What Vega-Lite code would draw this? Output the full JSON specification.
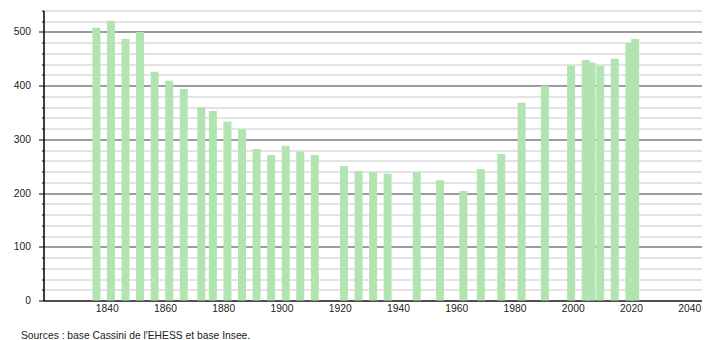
{
  "$schema": "https://vega.github.io/schema/vega-lite/v6.json",
  "width": 658,
  "height": 290,
  "autosize": {"type": "none"},
  "padding": {"left": 43.5, "top": 10.5, "right": 8.5, "bottom": 39.5},
  "background": "white",
  "config": {
    "view": {"stroke": null},
    "font": "Liberation Sans",
    "axis": {"labelFont": "Liberation Sans", "labelFontSize": 10.3, "labelColor": "#222222", "domainColor": "#000000", "tickColor": "#000000"}
  },
  "title": {
    "text": "Sources : base Cassini de l'EHESS et base Insee.",
    "orient": "bottom",
    "anchor": "start",
    "frame": "group",
    "dx": -22.5,
    "offset": 17,
    "fontSize": 10.3,
    "fontWeight": "normal",
    "font": "Liberation Sans",
    "color": "#222222"
  },
  "data": {
    "values": [
      {"annee": 1836, "population": 508},
      {"annee": 1841, "population": 521},
      {"annee": 1846, "population": 487},
      {"annee": 1851, "population": 500},
      {"annee": 1856, "population": 426},
      {"annee": 1861, "population": 409},
      {"annee": 1866, "population": 394},
      {"annee": 1872, "population": 360},
      {"annee": 1876, "population": 353},
      {"annee": 1881, "population": 333},
      {"annee": 1886, "population": 319},
      {"annee": 1891, "population": 282},
      {"annee": 1896, "population": 271},
      {"annee": 1901, "population": 288},
      {"annee": 1906, "population": 277},
      {"annee": 1911, "population": 271},
      {"annee": 1921, "population": 250},
      {"annee": 1926, "population": 241},
      {"annee": 1931, "population": 239},
      {"annee": 1936, "population": 236},
      {"annee": 1946, "population": 239},
      {"annee": 1954, "population": 224},
      {"annee": 1962, "population": 204},
      {"annee": 1968, "population": 245},
      {"annee": 1975, "population": 273},
      {"annee": 1982, "population": 368},
      {"annee": 1990, "population": 400},
      {"annee": 1999, "population": 437},
      {"annee": 2004, "population": 448},
      {"annee": 2006, "population": 443},
      {"annee": 2009, "population": 437},
      {"annee": 2014, "population": 450},
      {"annee": 2019, "population": 480},
      {"annee": 2021, "population": 487}
    ]
  },
  "layer": [
    {
      "mark": {"type": "bar", "opacity": 0, "size": 8},
      "encoding": {
        "x": {"field": "annee", "type": "quantitative", "scale": {"domain": [1820, 2042.5], "nice": false, "zero": false},
              "axis": {"values": [1840, 1860, 1880, 1900, 1920, 1940, 1960, 1980, 2000, 2020, 2040], "title": null, "grid": false, "ticks": false, "labelPadding": 3, "labelFlush": false, "format": "d"}},
        "y": {"field": "population", "type": "quantitative", "scale": {"domain": [0, 540], "nice": false},
              "axis": {"orient": "left", "values": [20, 40, 60, 80, 120, 140, 160, 180, 220, 240, 260, 280, 320, 340, 360, 380, 420, 440, 460, 480, 520, 540],
                       "labels": false, "title": null, "tickSize": 2, "grid": true, "gridColor": "#c8c8c8", "gridOpacity": 1, "gridWidth": 1, "domain": true}}
      }
    },
    {
      "mark": {"type": "bar", "color": "#b2e4b2", "size": 8, "xOffset": 1.3},
      "encoding": {
        "x": {"field": "annee", "type": "quantitative"},
        "y": {"field": "population", "type": "quantitative",
              "axis": {"orient": "left", "values": [0, 100, 200, 300, 400, 500], "title": null, "tickSize": 5, "labelPadding": 8, "grid": true, "gridColor": "#3a3a3a", "gridOpacity": 1, "gridWidth": 1, "domain": true}}
      }
    }
  ],
  "resolve": {"axis": {"y": "independent"}}
}
